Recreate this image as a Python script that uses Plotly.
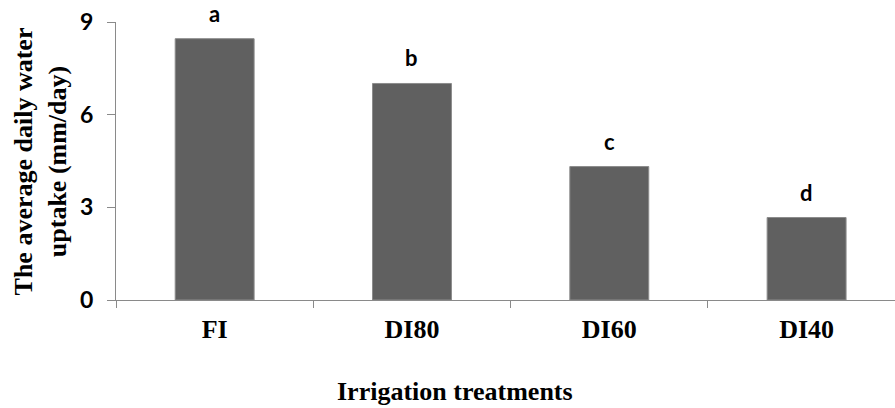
import plotly.graph_objects as go

categories = ["FI", "DI80", "DI60", "DI40"]
uptake = [8.46, 7.01, 4.32, 2.67]
letters = ["a", "b", "c", "d"]
y_ticks = [0, 3, 6, 9]

bar_color = "#606060"
axis_color = "#8a8a8a"
serif = "Liberation Serif, Times New Roman, serif"
sans = "Lato, Open Sans, sans-serif"

fig = go.Figure()
fig.add_trace(go.Bar(
    x=categories, y=uptake,
    marker=dict(color=bar_color, line=dict(color="#8c8c8c", width=1)),
    width=0.4,
    hoverinfo="skip",
))

for c, v, t in zip(categories, uptake, letters):
    fig.add_annotation(x=c, y=v, text=t, showarrow=False, yanchor="bottom",
                       yshift=10, font=dict(family=sans, size=22, color="black", weight="bold"))

fig.add_annotation(xref="paper", yref="paper", x=-0.097, y=0.5,
                   text="<b>The average daily water<br>uptake (mm/day)</b>",
                   textangle=-90, showarrow=False, xanchor="center", yanchor="middle",
                   font=dict(family=serif, size=26, color="black"))
fig.add_annotation(xref="paper", yref="paper", x=0.435, y=-0.33,
                   text="<b>Irrigation treatments</b>", showarrow=False,
                   xanchor="center", yanchor="middle",
                   font=dict(family=serif, size=26, color="black"))

fig.update_layout(
    width=895, height=408,
    margin=dict(l=116, r=0, t=22, b=108),
    paper_bgcolor="white", plot_bgcolor="white",
    showlegend=False,
    xaxis=dict(
        range=[-0.5, 3.448], type="category",
        showline=True, linecolor=axis_color, linewidth=1,
        ticks="outside", tickson="boundaries", ticklen=7, tickcolor=axis_color,
        showgrid=False, zeroline=False,
        tickfont=dict(family=serif, size=26, color="black", weight="bold"),
        ticklabelstandoff=6,
    ),
    yaxis=dict(
        range=[0, 9], tickvals=y_ticks,
        showline=True, linecolor=axis_color, linewidth=1,
        ticks="outside", ticklen=8, tickcolor=axis_color,
        showgrid=False, zeroline=False,
        tickfont=dict(family=sans, size=23, color="black", weight="bold"),
        ticklabelstandoff=9,
    ),
)

fig.write_html("out.html", config={"displayModeBar": False},
               post_script="document.body.style.margin='0';document.body.style.overflow='hidden';")
